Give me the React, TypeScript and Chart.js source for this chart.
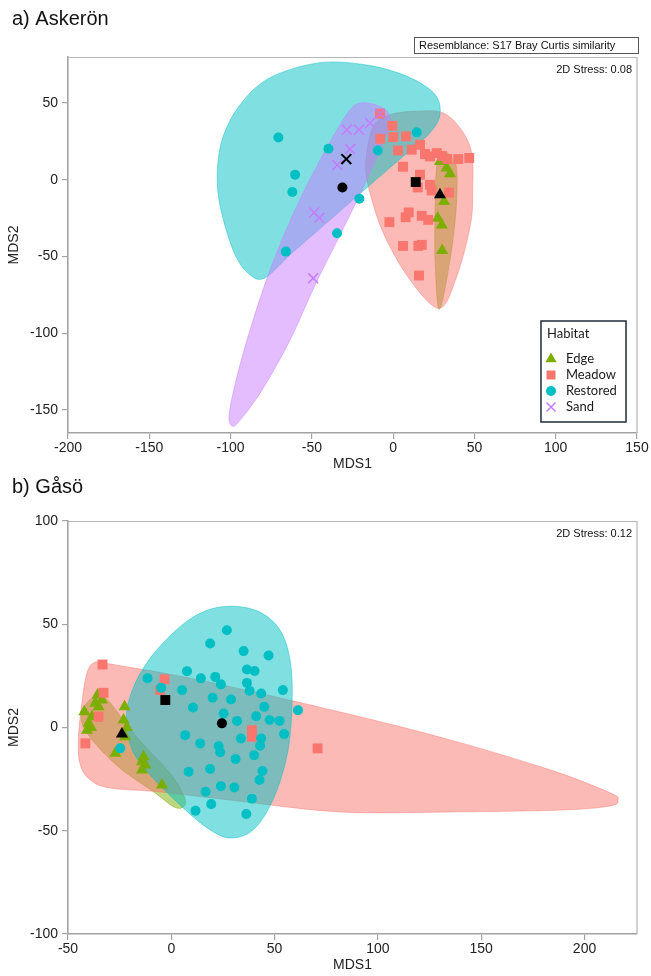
import React, { useEffect, useRef } from 'react';
import { Chart, registerables } from 'chart.js';

Chart.register(...registerables);

type P = [number, number];

const HABITATS = ['Edge', 'Meadow', 'Restored', 'Sand'];

// ---------- a) Askerön ----------
const askXTicks = [-200, -150, -100, -50, 0, 50, 100, 150];
const askYTicks = [-150, -100, -50, 0, 50];

const askEdge: P[] = [[32.9, 7.6], [35, 3.9], [28.8, 11.9], [31.3, -14.1], [27.4, -25], [29.9, -29.4], [30.2, -46.1]];
const askMeadow: P[] = [
  [-8.1, 43.1], [-0.5, 35.2], [-7.9, 26.7], [0.1, 27.8], [7.9, 28.3], [3.0, 19.1], [11.4, 19.6], [16.5, 22.8],
  [19.6, 16.8], [22.7, 15.2], [26.8, 17.4], [33.3, 13.5], [40.1, 13.5], [46.8, 14.2], [6.1, 8.5], [16.5, 3.3],
  [15.1, -5.0], [22.7, -3.3], [23.7, -7.0], [34.4, -8.3], [-2.3, -27.6], [7.7, -24.4], [9.6, -21.3], [17.6, -23.5],
  [21.6, -26.1], [6.1, -43.1], [15.5, -43.1], [17.6, -42.4], [15.9, -62.4], [30, 15.5]
];
const askRestored: P[] = [
  [-70.6, 27.6], [-39.8, 20.2], [-60.3, 3.3], [-62, -8], [-20.8, -12.4], [-34.5, -34.8], [-66, -46.8], [14.5, 30.9], [-9.5, 19.1]
];
const askSand: P[] = [
  [-8.1, 43.1], [-14.2, 37], [-21, 32.6], [-28.5, 32.6], [-26.5, 20.0], [-34.3, 9.6], [-48.6, -21.3], [-45.4, -24.8], [-49.2, -64.1]
];
const askCentroidEdge: P = [28.8, -9.8];
const askCentroidMeadow: P = [13.9, -1.5];
const askCentroidRestored: P = [-31.2, -5.0];
const askCentroidSand: P = [-28.8, 13.5];

const askHullEdge: P[] = [[30.5, 18.5], [36.2, 14.4], [39.1, 6.5], [38.7, -19.6], [35, -52.2], [28.4, -84.3], [25.8, -52.2], [25.8, -19.6], [26.8, 8.7]];
const askHullMeadow: P[] = [
  [14.5, 44.6], [32.9, 42.4], [47.3, 21.7], [48.9, -8.7], [47.3, -30.5], [39.1, -63.1], [28.4, -83.7], [10.4, -65.2],
  [-6, -34.8], [-15.2, -4.4], [-16.7, 13], [-12.2, 34.8], [-1.9, 42.4]
];
const askHullRestored: P[] = [
  [-44.9, 76.3], [-14.2, 74.4], [10.4, 66.5], [25.8, 55.5], [28.8, 42.4], [22.7, 30.7], [7.3, 16.3], [-14.2, -3.3],
  [-38.8, -26.1], [-63.4, -48.9], [-78.7, -63.9], [-88, -62], [-97.2, -48.9], [-105.2, -22.8], [-108.2, 0],
  [-105.2, 26.1], [-94.1, 48.9], [-75.7, 66.5]
];
const askHullSand: P[] = [
  [-19.1, 50.2], [-9.3, 48.3], [-3.1, 43.7], [-1.9, 35.9], [-8.1, 19.6], [-19.1, -6.5], [-32.6, -35.9], [-48, -68.5],
  [-63.4, -104.4], [-80.6, -137], [-94.1, -156.6], [-99, -160.5], [-100.9, -153.3], [-96.6, -130.5], [-88, -97.8],
  [-75.7, -58.7], [-60.3, -19.6], [-44.9, 13], [-32.6, 35.9], [-25.3, 47]
];

// ---------- b) Gåsö ----------
const gasXTicks = [-50, 0, 50, 100, 150, 200];
const gasYTicks = [-100, -50, 0, 50, 100];

const gasEdge: P[] = [
  [-35.7, 15.7], [-33.6, 13.3], [-36.8, 11.7], [-35.2, 10], [-38.4, 5.2], [-40, 2], [-40.8, -1.3], [-38.9, 0],
  [-22.6, 10], [-23.1, 3.6], [-21.5, 0], [-22.3, -4.5], [-27.1, -12.5], [-13.4, -14.2], [-14.2, -16.6],
  [-12.6, -18.2], [-14.2, -20.6], [-4.5, -27.9], [-42.1, 7.6]
];
const gasMeadow: P[] = [[-33.3, 30.5], [-32.8, 16.8], [-35.2, 5.2], [-41.6, -7.7], [-3.3, 23.3], [-5.4, 18.1], [39, -1.3], [39, -4.5], [70.8, -10.1]];
const gasRestored: P[] = [
  [26.9, 47.1], [18.8, 40.7], [35, 37], [47.1, 34.9], [7.6, 27.3], [14.3, 23.8], [21.3, 24.5], [24, 20.9],
  [36.6, 28.1], [40.3, 27.4], [36.6, 21.6], [37.9, 17.8], [43.5, 16.5], [54, 18.1], [-11.5, 23.9], [-4.9, 19.2],
  [5.2, 18.1], [20, 14.4], [28.9, 13.6], [10.5, 9.7], [45, 10], [61.3, 8.4], [25.3, 6.8], [31.8, 3.2], [41.1, 5.5],
  [47.6, 3.6], [52.4, 3.2], [54.6, -3.2], [6.7, -3.7], [14, -7.7], [33.7, -5.3], [43.5, -5.3], [43, -8.8],
  [22.9, -9], [23.7, -12], [40.1, -13.4], [31.1, -15.3], [8.4, -21.4], [18.8, -20.1], [44.1, -21.1], [42.7, -25.4],
  [24, -28.4], [30.5, -29], [16.6, -31.1], [39, -34.5], [19.3, -37.1], [11.7, -40.3], [36.3, -41.9], [-24.7, -10.1]
];
const gasCentroidEdge: P = [-23.9, -3.2];
const gasCentroidMeadow: P = [-2.9, 13.3];
const gasCentroidRestored: P = [24.5, 2.0];

const gasHullEdge: P[] = [
  [-42.5, 9.2], [-37.6, 14.6], [-31.1, 13.6], [-21.5, 1.2], [-11.8, -10.1], [-0.5, -22.2], [6.3, -33.5],
  [5.9, -38.4], [1.1, -38.4], [-8.6, -31.1], [-24.7, -19.8], [-37.6, -6.9], [-43.2, 2]
];
const gasHullMeadow: P[] = [
  [-36.8, 31.6], [-29.5, 30.7], [14, 22.9], [81.7, 7.5], [134.9, -6.0], [183.3, -20.5], [212.3, -31.6], [216.2, -35.1],
  [212.3, -38], [188.1, -40], [134.9, -40.9], [81.7, -40.9], [28.5, -35.1], [-5.3, -31.2], [-29.5, -29.3],
  [-39.2, -25.4], [-44, -18.2], [-45, -6.1], [-43.1, 13.3], [-40.7, 26.8]
];
const gasHullRestored: P[] = [
  [30, 58.7], [43, 55.8], [52.7, 47.1], [57.5, 32.6], [58.5, 13.3], [56.5, -10.9], [50.2, -32.7], [40.6, -48.7],
  [29.5, -53.5], [18.8, -49.6], [4.3, -37.6], [-10.2, -23], [-18.9, -10.9], [-21.8, 3.6], [-18.9, 18.1],
  [-10.2, 33.6], [3.4, 48.1], [16.4, 56.4]
];

// ---------- styles ----------
const COLORS: Record<string, string> = { Edge: '#7CAE00', Meadow: '#F8766D', Restored: '#00BFC4', Sand: '#C77CFF' };
const STYLES: Record<string, string> = { Edge: 'triangle', Meadow: 'rect', Restored: 'circle', Sand: 'crossRot' };
const RADII: Record<string, number> = { Edge: 7, Meadow: 7, Restored: 5, Sand: 7 };
const AXIS_FONT = { family: '"Liberation Sans", Arial, sans-serif', size: 14 };
const AXIS_GREY = '#a3a3a3';

function hexA(hex: string, a: number) {
  const n = parseInt(hex.slice(1), 16);
  return `rgba(${(n >> 16) & 255},${(n >> 8) & 255},${n & 255},${a})`;
}

function closedSpline(ctx: CanvasRenderingContext2D, pts: { x: number; y: number }[]) {
  const n = pts.length;
  ctx.beginPath();
  ctx.moveTo(pts[0].x, pts[0].y);
  for (let i = 0; i < n; i++) {
    const p0 = pts[(i - 1 + n) % n], p1 = pts[i], p2 = pts[(i + 1) % n], p3 = pts[(i + 2) % n];
    ctx.bezierCurveTo(
      p1.x + (p2.x - p0.x) / 6, p1.y + (p2.y - p0.y) / 6,
      p2.x - (p3.x - p1.x) / 6, p2.y - (p3.y - p1.y) / 6,
      p2.x, p2.y
    );
  }
  ctx.closePath();
}

function hullPlugin(hulls: { habitat: string; pts: P[] }[]) {
  return {
    id: 'hulls',
    beforeDatasetsDraw(chart: any) {
      const { ctx, chartArea, scales } = chart;
      ctx.save();
      ctx.beginPath();
      ctx.rect(chartArea.left, chartArea.top, chartArea.right - chartArea.left, chartArea.bottom - chartArea.top);
      ctx.clip();
      for (const h of hulls) {
        const pts = h.pts.map(([x, y]) => ({ x: scales.x.getPixelForValue(x), y: scales.y.getPixelForValue(y) }));
        closedSpline(ctx, pts);
        ctx.fillStyle = hexA(COLORS[h.habitat], 0.5);
        ctx.fill();
        ctx.strokeStyle = hexA(COLORS[h.habitat], 0.45);
        ctx.lineWidth = 1;
        ctx.stroke();
      }
      ctx.restore();
    },
  };
}

function drawSymbol(ctx: CanvasRenderingContext2D, style: string, cx: number, cy: number, color: string) {
  ctx.fillStyle = color;
  ctx.strokeStyle = color;
  ctx.beginPath();
  if (style === 'triangle') {
    const r = 6.5;
    ctx.moveTo(cx, cy - r);
    ctx.lineTo(cx + r * 0.866, cy + r / 2);
    ctx.lineTo(cx - r * 0.866, cy + r / 2);
    ctx.closePath();
    ctx.fill();
  } else if (style === 'rect') {
    ctx.rect(cx - 4.5, cy - 4.5, 9, 9);
    ctx.fill();
  } else if (style === 'circle') {
    ctx.arc(cx, cy, 5, 0, Math.PI * 2);
    ctx.fill();
  } else {
    ctx.lineWidth = 1.5;
    ctx.moveTo(cx - 4.5, cy - 4.5); ctx.lineTo(cx + 4.5, cy + 4.5);
    ctx.moveTo(cx + 4.5, cy - 4.5); ctx.lineTo(cx - 4.5, cy + 4.5);
    ctx.stroke();
  }
}

function decoPlugin(cfg: any) {
  return {
    id: 'deco',
    afterDraw(chart: any) {
      const { ctx, chartArea } = chart;
      ctx.save();
      // frame top/right
      ctx.strokeStyle = '#b5b5b5';
      ctx.lineWidth = 1.2;
      ctx.beginPath();
      ctx.moveTo(chartArea.left, chartArea.top + 0.5);
      ctx.lineTo(chartArea.right, chartArea.top + 0.5);
      ctx.lineTo(chartArea.right, chartArea.bottom);
      ctx.stroke();
      // panel title
      ctx.fillStyle = '#111';
      ctx.font = '20px "Liberation Sans", Arial, sans-serif';
      ctx.textBaseline = 'middle';
      ctx.textAlign = 'left';
      ctx.fillText(cfg.title, 12, cfg.titleY);
      // stress
      ctx.font = '11px "Liberation Sans", Arial, sans-serif';
      ctx.textAlign = 'right';
      ctx.fillText(cfg.stress, chartArea.right - 5, chartArea.top + 13);
      if (cfg.resemblance) {
        ctx.strokeStyle = '#555';
        ctx.lineWidth = 1;
        ctx.strokeRect(414.5, 37.5, 224, 16);
        ctx.textAlign = 'left';
        ctx.fillText(cfg.resemblance, 419, 46);
      }
      if (cfg.legend) {
        const L = cfg.legend;
        ctx.fillStyle = '#fff';
        ctx.fillRect(L.x, L.y, L.w, L.h);
        ctx.strokeStyle = '#1f2b3a';
        ctx.lineWidth = 1.5;
        ctx.strokeRect(L.x, L.y, L.w, L.h);
        ctx.fillStyle = '#1a1a1a';
        ctx.textAlign = 'left';
        ctx.font = '13px Lato, "Noto Sans", sans-serif';
        ctx.fillText('Habitat', L.x + 6, L.y + 13);
        HABITATS.forEach((h, i) => {
          const cy = L.y + 38 + i * 16;
          drawSymbol(ctx, STYLES[h], L.x + 10, cy, COLORS[h]);
          ctx.fillStyle = '#1a1a1a';
          ctx.fillText(h, L.x + 25, cy);
        });
      }
      ctx.restore();
    },
  };
}

function buildDatasets(groups: Record<string, P[]>, centroids: Record<string, P>) {
  const ds: any[] = [];
  HABITATS.forEach((h, i) => {
    if (!groups[h]) return;
    ds.push({
      label: h,
      data: groups[h].map(([x, y]) => ({ x, y })),
      pointStyle: STYLES[h],
      pointRadius: RADII[h],
      backgroundColor: COLORS[h],
      borderColor: COLORS[h],
      borderWidth: h === 'Sand' ? 1.5 : 0,
      order: 10 - i,
    });
  });
  Object.keys(centroids).forEach((h) => {
    const c = centroids[h];
    ds.push({
      label: h + ' centroid',
      data: [{ x: c[0], y: c[1] }],
      pointStyle: STYLES[h],
      pointRadius: RADII[h],
      backgroundColor: '#000',
      borderColor: '#000',
      borderWidth: h === 'Sand' ? 2 : 0,
      order: 0,
    });
  });
  return ds;
}

function makeConfig(p: any) {
  return {
    type: 'scatter',
    data: { datasets: buildDatasets(p.groups, p.centroids) },
    options: {
      responsive: false,
      animation: false,
      devicePixelRatio: 1,
      layout: { padding: { top: p.padTop, right: 14, left: 0, bottom: 0 } },
      plugins: { legend: { display: false }, tooltip: { enabled: false } },
      scales: {
        x: {
          type: 'linear',
          min: p.xMin,
          max: p.xMax,
          afterBuildTicks: (s: any) => { s.ticks = p.xTicks.map((v: number) => ({ value: v })); },
          afterFit: (s: any) => { s.height = p.xAxisH; s.paddingLeft = 0; s.paddingRight = 0; },
          grid: { drawOnChartArea: false, drawTicks: true, tickLength: 6, color: AXIS_GREY, lineWidth: 1.2 },
          border: { display: true, color: AXIS_GREY, width: 1.6 },
          ticks: { font: AXIS_FONT, color: '#222', padding: 1, maxRotation: 0, autoSkip: false },
          title: { display: true, text: 'MDS1', font: AXIS_FONT, color: '#222', padding: { top: 0, bottom: p.xTitlePad } },
        },
        y: {
          type: 'linear',
          min: p.yMin,
          max: p.yMax,
          afterBuildTicks: (s: any) => { s.ticks = p.yTicks.map((v: number) => ({ value: v })); },
          afterFit: (s: any) => { s.width = 68; s.paddingTop = 0; s.paddingBottom = 0; },
          grid: { drawOnChartArea: false, drawTicks: true, tickLength: 6, color: AXIS_GREY, lineWidth: 1.2 },
          border: { display: true, color: AXIS_GREY, width: 1.6 },
          ticks: { font: AXIS_FONT, color: '#222', padding: 4, autoSkip: false },
          title: { display: true, text: 'MDS2', font: AXIS_FONT, color: '#222', padding: { top: 6, bottom: 0 } },
        },
      },
    },
    plugins: [hullPlugin(p.hulls), decoPlugin(p.deco)],
  };
}

const panelA = {
  groups: { Edge: askEdge, Meadow: askMeadow, Restored: askRestored, Sand: askSand },
  centroids: { Edge: askCentroidEdge, Meadow: askCentroidMeadow, Restored: askCentroidRestored, Sand: askCentroidSand },
  hulls: [
    { habitat: 'Edge', pts: askHullEdge },
    { habitat: 'Meadow', pts: askHullMeadow },
    { habitat: 'Restored', pts: askHullRestored },
    { habitat: 'Sand', pts: askHullSand },
  ],
  xMin: -200, xMax: 150, yMin: -165, yMax: 80,
  xTicks: askXTicks, yTicks: askYTicks,
  padTop: 57, xAxisH: 43, xTitlePad: 3,
  deco: {
    title: 'a) Askerön', titleY: 19, stress: '2D Stress: 0.08',
    resemblance: 'Resemblance: S17 Bray Curtis similarity',
    legend: { x: 541, y: 321, w: 85, h: 101 },
  },
};

const panelB = {
  groups: { Edge: gasEdge, Meadow: gasMeadow, Restored: gasRestored },
  centroids: { Edge: gasCentroidEdge, Meadow: gasCentroidMeadow, Restored: gasCentroidRestored },
  hulls: [
    { habitat: 'Edge', pts: gasHullEdge },
    { habitat: 'Meadow', pts: gasHullMeadow },
    { habitat: 'Restored', pts: gasHullRestored },
  ],
  xMin: -50, xMax: 225.4, yMin: -100, yMax: 100,
  xTicks: gasXTicks, yTicks: gasYTicks,
  padTop: 45, xAxisH: 42, xTitlePad: 2,
  deco: { title: 'b) Gåsö', titleY: 11, stress: '2D Stress: 0.12' },
};

export default function App() {
  const refA = useRef<HTMLCanvasElement>(null);
  const refB = useRef<HTMLCanvasElement>(null);
  useEffect(() => {
    const a = new Chart(refA.current as HTMLCanvasElement, makeConfig(panelA) as any);
    const b = new Chart(refB.current as HTMLCanvasElement, makeConfig(panelB) as any);
    return () => { a.destroy(); b.destroy(); };
  }, []);
  return (
    <div style={{ position: 'absolute', left: 0, top: 0, width: 651, height: 976, background: '#fff' }}>
      <canvas ref={refA} width={651} height={476} style={{ position: 'absolute', left: 0, top: 0, width: 651, height: 476 }} />
      <canvas ref={refB} width={651} height={500} style={{ position: 'absolute', left: 0, top: 476, width: 651, height: 500 }} />
    </div>
  );
}
